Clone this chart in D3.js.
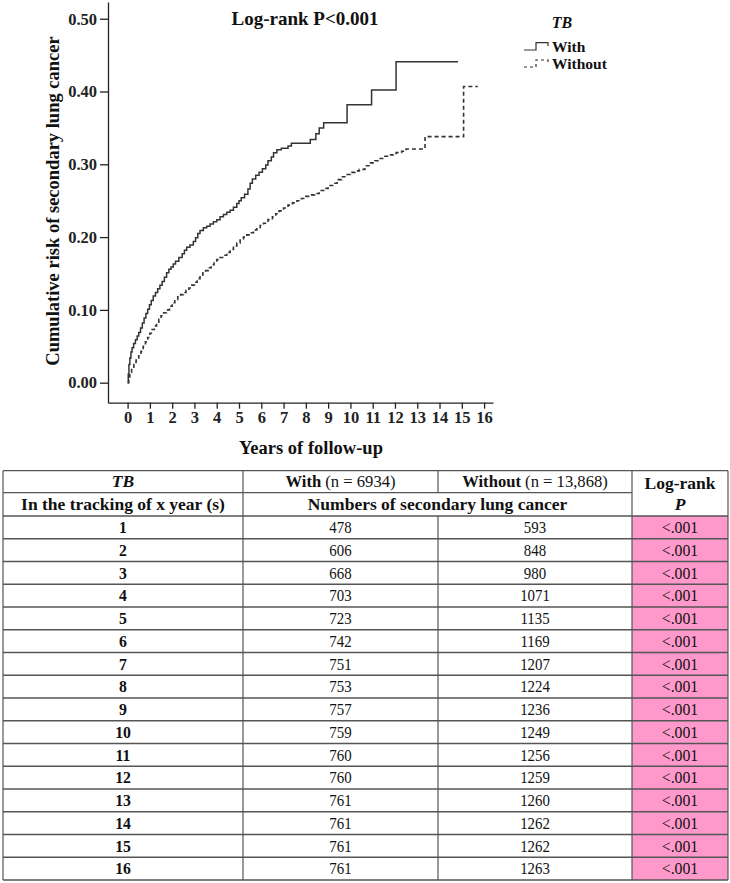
<!DOCTYPE html>
<html><head><meta charset="utf-8">
<script src="https://cdn.jsdelivr.net/npm/d3@7/dist/d3.min.js"></script>
<style>body{margin:0;background:#fff}svg{display:block}</style>
</head><body>
<svg id="c" width="730" height="883"></svg>
<script>
// ---- data ----
const withTB = [[0,0],[0.03,0.012],[0.06,0.025],[0.1,0.034],[0.15,0.042],[0.2,0.048],[0.27,0.054],[0.35,0.059],[0.43,0.064],[0.5,0.069],[0.58,0.075],[0.66,0.082],[0.74,0.089],[0.82,0.095],[0.9,0.101],[0.98,0.107],[1.06,0.113],[1.15,0.119],[1.25,0.124],[1.35,0.129],[1.45,0.134],[1.55,0.139],[1.65,0.145],[1.75,0.151],[1.85,0.156],[1.95,0.159],[2.05,0.163],[2.15,0.167],[2.3,0.172],[2.45,0.177],[2.55,0.182],[2.65,0.186],[2.8,0.189],[2.95,0.194],[3.05,0.199],[3.15,0.205],[3.25,0.209],[3.4,0.213],[3.55,0.215],[3.7,0.218],[3.85,0.221],[4.0,0.224],[4.15,0.228],[4.3,0.231],[4.45,0.234],[4.6,0.237],[4.75,0.241],[4.9,0.246],[5.0,0.25],[5.1,0.254],[5.25,0.259],[5.4,0.266],[5.5,0.274],[5.6,0.28],[5.75,0.285],[5.9,0.289],[6.05,0.294],[6.2,0.299],[6.3,0.305],[6.45,0.31],[6.55,0.316],[6.7,0.32],[6.9,0.322],[7.2,0.325],[7.35,0.329],[8.2,0.334],[8.45,0.342],[8.6,0.35],[8.8,0.357],[9.85,0.382],[10.95,0.402],[12.05,0.441],[14.83,0.441]];
const withoutTB = [[0,0],[0.05,0.008],[0.1,0.014],[0.18,0.02],[0.28,0.025],[0.38,0.031],[0.5,0.037],[0.6,0.043],[0.7,0.05],[0.8,0.056],[0.9,0.062],[1.0,0.068],[1.1,0.073],[1.2,0.078],[1.3,0.082],[1.4,0.087],[1.5,0.092],[1.62,0.096],[1.75,0.1],[1.88,0.105],[2.0,0.11],[2.12,0.114],[2.25,0.118],[2.38,0.121],[2.5,0.124],[2.62,0.127],[2.75,0.13],[2.88,0.134],[3.0,0.138],[3.12,0.143],[3.25,0.148],[3.38,0.151],[3.5,0.154],[3.62,0.158],[3.75,0.162],[3.88,0.166],[4.0,0.169],[4.15,0.172],[4.3,0.175],[4.45,0.179],[4.6,0.183],[4.75,0.188],[4.9,0.192],[5.05,0.196],[5.2,0.2],[5.35,0.203],[5.5,0.206],[5.65,0.21],[5.8,0.213],[5.95,0.216],[6.1,0.219],[6.3,0.224],[6.5,0.228],[6.65,0.232],[6.8,0.236],[7.0,0.24],[7.2,0.244],[7.4,0.247],[7.6,0.25],[7.8,0.253],[8.0,0.256],[8.2,0.258],[8.4,0.26],[8.6,0.264],[8.8,0.267],[9.0,0.271],[9.2,0.274],[9.4,0.279],[9.6,0.283],[9.8,0.286],[10.0,0.289],[10.2,0.291],[10.4,0.293],[10.65,0.298],[10.9,0.302],[11.1,0.305],[11.3,0.308],[11.55,0.311],[11.8,0.313],[12.05,0.316],[12.3,0.318],[12.5,0.321],[13.35,0.338],[15.08,0.407],[15.72,0.407]];
const yTickValues = [0, 0.1, 0.2, 0.3, 0.4, 0.5];
const xTickValues = [0,1,2,3,4,5,6,7,8,9,10,11,12,13,14,15,16];
const seriesNames = ["With", "Without"];
const years = [1,2,3,4,5,6,7,8,9,10,11,12,13,14,15,16];
const withCounts = [478,606,668,703,723,742,751,753,757,759,760,760,761,761,761,761];
const withoutCounts = [593,848,980,1071,1135,1169,1207,1224,1236,1249,1256,1259,1260,1262,1262,1263];
const pValues = ["<.001","<.001","<.001","<.001","<.001","<.001","<.001","<.001","<.001","<.001","<.001","<.001","<.001","<.001","<.001","<.001"];

// ---- chart ----
const svg = d3.select("#c");
const SERIF = "'Liberation Serif','Times New Roman',serif";
const x = d3.scaleLinear().domain([-0.88, 16.4]).range([108, 493]);
const y = d3.scaleLinear().domain([-0.0275, 0.523]).range([402.7, 2]);

const gy = svg.append("g").attr("transform","translate(108,0)")
  .call(d3.axisLeft(y).tickValues(yTickValues).tickFormat(d3.format(".2f")).tickSize(8).tickSizeOuter(0).tickPadding(3));
const gx = svg.append("g").attr("transform","translate(0,402.7)")
  .call(d3.axisBottom(x).tickValues(xTickValues).tickFormat(d3.format("d")).tickSize(6).tickSizeOuter(0).tickPadding(3));
[gy,gx].forEach(g=>{
  g.selectAll("path,line").attr("stroke","#222").attr("stroke-width",1.3);
  g.selectAll("text").attr("font-family",SERIF).attr("font-weight","bold").attr("font-size",16.5).attr("fill","#222");
});

const line = d3.line().x(d=>x(d[0])).y(d=>y(d[1])).curve(d3.curveStepAfter);
svg.append("path").datum(withoutTB).attr("d",line).attr("fill","none")
  .attr("stroke","#333").attr("stroke-width",1.6).attr("stroke-dasharray","4,3");
svg.append("path").datum(withTB).attr("d",line).attr("fill","none")
  .attr("stroke","#333").attr("stroke-width",1.5);

svg.append("text").attr("x",305).attr("y",25).attr("text-anchor","middle")
  .attr("font-family",SERIF).attr("font-weight","bold").attr("font-size",19).attr("fill","#111").text("Log-rank P<0.001");
svg.append("text").attr("x",311).attr("y",454).attr("text-anchor","middle")
  .attr("font-family",SERIF).attr("font-weight","bold").attr("font-size",18.5).attr("fill","#111").text("Years of follow-up");
svg.append("text").attr("transform","translate(59,201) rotate(-90)").attr("text-anchor","middle")
  .attr("font-family",SERIF).attr("font-weight","bold").attr("font-size",18.5).attr("fill","#111").text("Cumulative risk of secondary lung cancer");

// legend
svg.append("text").attr("x",562).attr("y",28).attr("text-anchor","middle")
  .attr("font-family",SERIF).attr("font-weight","bold").attr("font-style","italic").attr("font-size",16).attr("fill","#111").text("TB");
const leg = svg.append("g");
const legY = [50, 67];
leg.append("path").attr("d",`M524,${legY[0]}H536V42.7H548V46`).attr("fill","none").attr("stroke","#333").attr("stroke-width",1.2);
leg.append("path").attr("d",`M524,${legY[1]}H536V60H548V63`).attr("fill","none").attr("stroke","#333").attr("stroke-width",1.2).attr("stroke-dasharray","3,3");
seriesNames.forEach((s,i)=>{
  leg.append("text").attr("x",552).attr("y",[52.3,69][i]).attr("font-family",SERIF).attr("font-weight","bold")
    .attr("font-size",15.5).attr("fill","#111").text(s);
});

// ---- table ----
const colX = [3, 243, 438, 632, 728];
const hdrY = [470.7, 492.7, 516];
const rowH = 22.75;
const tbl = svg.append("g");
const nRows = years.length;
const bottomY = hdrY[2] + nRows*rowH;
tbl.selectAll("rect.p").data(pValues).join("rect")
  .attr("x",colX[3]).attr("y",(d,i)=>hdrY[2]+i*rowH).attr("width",colX[4]-colX[3]).attr("height",rowH)
  .attr("fill","#ff99cc");
const stroke = "#555";
const hl = (y1,xa,xb,w)=>tbl.append("line").attr("x1",xa).attr("x2",xb).attr("y1",y1).attr("y2",y1).attr("stroke",stroke).attr("stroke-width",w||1.3);
hl(hdrY[0],colX[0],colX[4]);
hl(hdrY[1],colX[0],colX[3]);
for(let i=0;i<=nRows;i++) hl(hdrY[2]+i*rowH,colX[0],colX[4], i===nRows?1.6:1.3);
const vl = (x1,ya,yb)=>tbl.append("line").attr("x1",x1).attr("x2",x1).attr("y1",ya).attr("y2",yb).attr("stroke",stroke).attr("stroke-width",1.2);
vl(colX[0],hdrY[0],bottomY); vl(colX[4],hdrY[0],bottomY);
vl(colX[1],hdrY[0],bottomY); vl(colX[3],hdrY[0],bottomY);
vl(colX[2],hdrY[0],hdrY[1]); vl(colX[2],hdrY[2],bottomY);

const cx = i=>(colX[i]+colX[i+1])/2;
const T = (xx,yy,txt,opt={})=>{
  const sx = opt.sx||1;
  const t = tbl.append("text").attr("transform",`translate(${xx},${yy}) scale(${sx},1)`).attr("text-anchor","middle")
    .attr("font-family",SERIF).attr("font-size",opt.size||17.5).attr("fill","#111")
    .attr("font-weight",opt.bold?"bold":"normal").attr("font-style",opt.italic?"italic":"normal");
  if(txt!==null) t.text(txt);
  return t;
};
T(cx(0),487,"TB",{bold:true,italic:true});
let t1 = T(cx(1),487,null,{sx:0.95}); t1.append("tspan").attr("font-weight","bold").text("With"); t1.append("tspan").text(" (n = 6934)");
let t2 = T(cx(2),487,null,{sx:0.95}); t2.append("tspan").attr("font-weight","bold").text("Without"); t2.append("tspan").text(" (n = 13,868)");
T(cx(3),489,"Log-rank",{bold:true});
T(cx(3),510,"P",{bold:true,italic:true});
T(cx(0),510,"In the tracking of x year (s)",{bold:true});
T((colX[1]+colX[3])/2,510,"Numbers of secondary lung cancer",{bold:true});
years.forEach((yr,i)=>{
  const by = hdrY[2]+i*rowH+17;
  T(cx(0),by,String(yr),{bold:true,sx:0.9});
  T(cx(1),by,String(withCounts[i]),{sx:0.85});
  T(cx(2),by,String(withoutCounts[i]),{sx:0.85});
  T(cx(3),by,pValues[i],{sx:0.9});
});
</script>
</body></html>
